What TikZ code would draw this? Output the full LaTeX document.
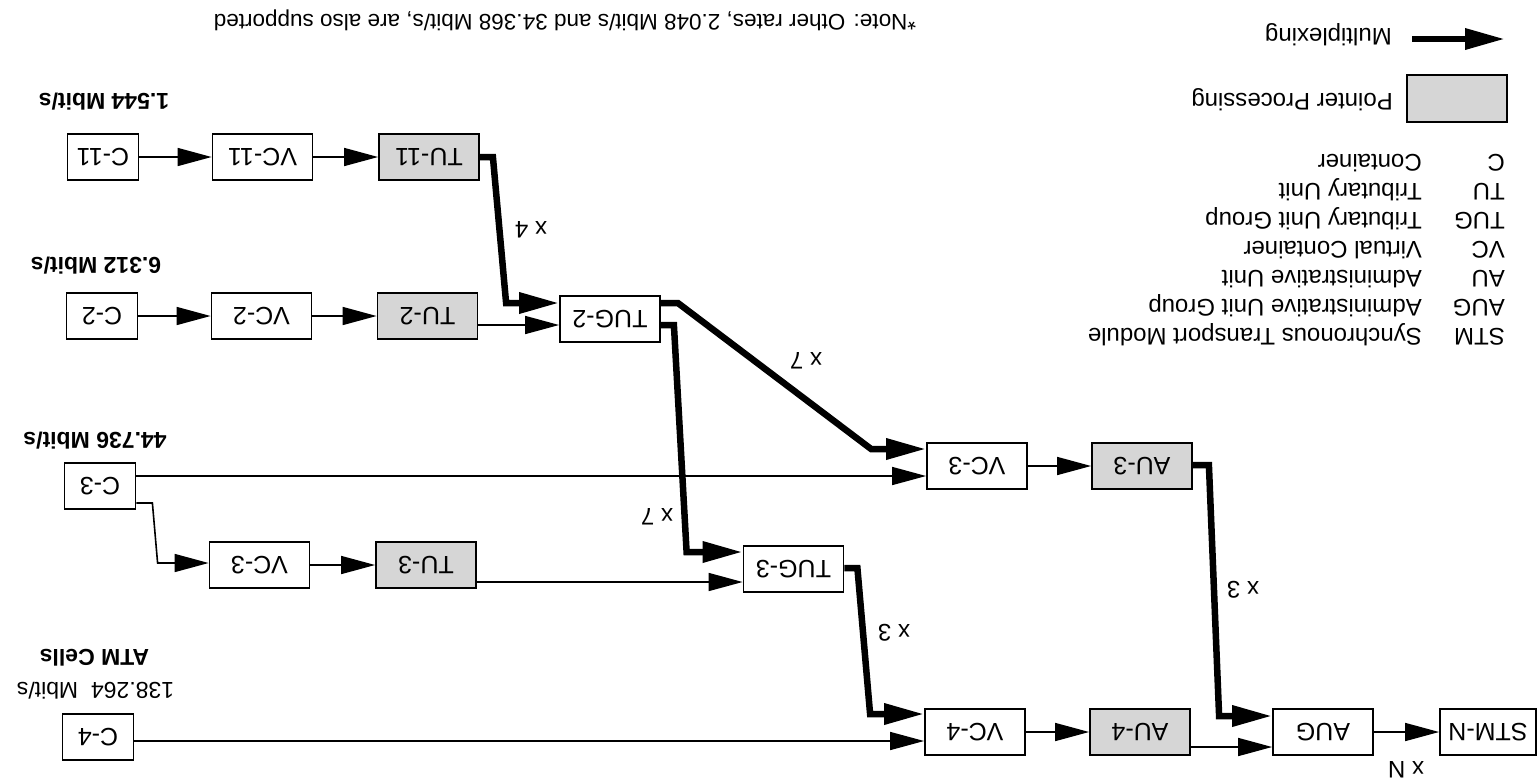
\documentclass[tikz,border=0pt]{standalone}
\usepackage{fontspec}
\setmainfont{Liberation Sans}
\usepackage{graphicx}
\usetikzlibrary{arrows.meta,calc}
\newcommand{\flip}[1]{\rotatebox[origin=c]{180}{#1}}
\begin{document}
\begin{tikzpicture}[x=1pt,y=-1pt,
  box/.style={draw, line width=1.8pt, minimum width=100pt, minimum height=46pt, inner sep=0pt, font=\fontsize{25}{25}\selectfont},
  cbox/.style={box, minimum width=71pt},
  ptr/.style={box, fill=black!16},
  conn/.style={line width=1.6pt, -{Triangle[length=34pt,width=18pt]}},
  mux/.style={line width=6.5pt, line join=miter, -{Triangle[length=40pt,width=20pt]}},
  flipped/.style={rotate=180, inner sep=0pt},
  tag/.style={flipped, font=\fontsize{24}{24}\selectfont},
  rate/.style={flipped, anchor=base, font=\fontsize{23}{23}\selectfont\bfseries},
  ratereg/.style={flipped, anchor=base, font=\fontsize{23}{23}\selectfont},
  leg/.style={flipped, anchor=base west, font=\fontsize{24}{24}\selectfont}]
\useasboundingbox (0,0) rectangle (1539,780);

% boxes
\node[cbox] (c11) at (103,157) {\flip{C-11}};
\node[box] (vc11) at (262.5,157) {\flip{VC-11}};
\node[ptr] (tu11) at (429,157) {\flip{TU-11}};
\node[cbox] (c2) at (102,316) {\flip{C-2}};
\node[box] (vc2) at (261.5,316) {\flip{VC-2}};
\node[ptr] (tu2) at (427.5,316) {\flip{TU-2}};
\node[box] (tug2) at (610,319) {\flip{TUG-2}};
\node[cbox] (c3) at (100,486) {\flip{C-3}};
\node[box] (vc3a) at (977,466) {\flip{VC-3}};
\node[ptr] (au3) at (1142,466) {\flip{AU-3}};
\node[box] (vc3b) at (259.5,565) {\flip{VC-3}};
\node[ptr] (tu3) at (426,565) {\flip{TU-3}};
\node[box] (tug3) at (793.5,569) {\flip{TUG-3}};
\node[cbox] (c4) at (98,737) {\flip{C-4}};
\node[box] (vc4) at (975,732) {\flip{VC-4}};
\node[ptr] (au4) at (1140,732) {\flip{AU-4}};
\node[box] (aug) at (1323,732) {\flip{AUG}};
\node[box, minimum width=96pt] (stm) at (1488,732) {\flip{STM-N}};

% thin connectors
\draw[conn] (c11.east) -- (vc11.west);
\draw[conn] (vc11.east) -- (tu11.west);
\draw[conn] (c2.east) -- (vc2.west);
\draw[conn] (vc2.east) -- (tu2.west);
\draw[conn] ($(tu2.east)+(0,9)$) -- ($(tug2.west)+(0,6)$);
\draw[conn] ($(c3.east)+(0,-10)$) -- ($(vc3a.west)+(0,10)$);
\draw[conn] ($(c3.east)+(0,17)$) -- ++(16,0) -- ($(vc3b.west)+(-51,-2)$) -- ($(vc3b.west)+(0,-2)$);
\draw[conn] (vc3b.east) -- (tu3.west);
\draw[conn] ($(tu3.east)+(0,17)$) -- ($(tug3.west)+(0,13)$);
\draw[conn] ($(c4.east)+(0,4)$) -- ($(vc4.west)+(0,9)$);
\draw[conn] (vc4.east) -- (au4.west);
\draw[conn] ($(au4.east)+(0,15)$) -- ($(aug.west)+(0,15)$);
\draw[conn] (vc3a.east) -- (au3.west);
\draw[conn] (aug.east) -- (stm.west);

% multiplexing connectors
\draw[mux] (tu11.east) -- ++(13,0) -- ($(tug2.west)+(-53,-16)$) -- ($(tug2.west)+(0,-16)$);
\draw[mux] ($(tug2.east)+(0,-16)$) -- ++(17,0) -- ($(vc3a.west)+(-55,-17)$) -- ($(vc3a.west)+(0,-17)$);
\draw[mux] ($(tug2.east)+(0,6)$) -- ++(13,0) -- ($(tug3.west)+(-56,-17)$) -- ($(tug3.west)+(0,-17)$);
\draw[mux] ($(tug3.east)+(0,-1)$) -- ++(13,0) -- ($(vc4.west)+(-54,-18)$) -- ($(vc4.west)+(0,-18)$);
\draw[mux] ($(au3.east)+(0,-1)$) -- ++(16,0) -- ($(aug.west)+(-53,-16)$) -- ($(aug.west)+(0,-16)$);

% multiplicity labels
\node[tag] (m4) at (531,230) {x 4};
\node[tag] (m7a) at (806,361) {x 7};
\node[tag] (m7b) at (657,517) {x 7};
\node[tag] (m3a) at (894,633) {x 3};
\node[tag] (m3b) at (1243,590) {x 3};
\node[tag] (mN) at (1406,770) {x N};

% rates
\node[rate] (r1) at (104,93) {1.544 Mbit/s};
\node[rate] (r2) at (96,257) {6.312 Mbit/s};
\node[rate] (r3) at (95,432) {44.736 Mbit/s};
\node[ratereg] (r4) at (95.5,682) {138.264\ \ Mbit/s};
\node[rate] (r5) at (94.5,649) {ATM Cells};

% legend
\coordinate (mxa) at (1412,39);
\coordinate (mxb) at (1505,39);
\draw[mux] (mxa) -- (mxb);
\node[leg] (lmux) at (1392,28) {Multiplexing};
\node[ptr, minimum width=100pt, minimum height=47pt] (lptr) at (1457,98.5) {};
\node[leg] (lptrt) at (1393,93) {Pointer Processing};
\foreach \ab/\de [count=\i from 0] in {C/Container, TU/Tributary Unit, TUG/Tributary Unit Group, VC/Virtual Container, AU/Administrative Unit, AUG/Administrative Unit Group, STM/Synchronous Transport Module}{
  \node[leg] (ab\i) at (1505,154+29*\i) {\ab};
  \node[leg] (de\i) at (1422,154+29*\i) {\de};
}

% note
\node[flipped, font=\fontsize{22.5}{22.5}\selectfont] (note) at (565,20) {*Note: Other rates, 2.048 Mbit/s and 34.368 Mbit/s, are also supported};
\end{tikzpicture}
\end{document}
